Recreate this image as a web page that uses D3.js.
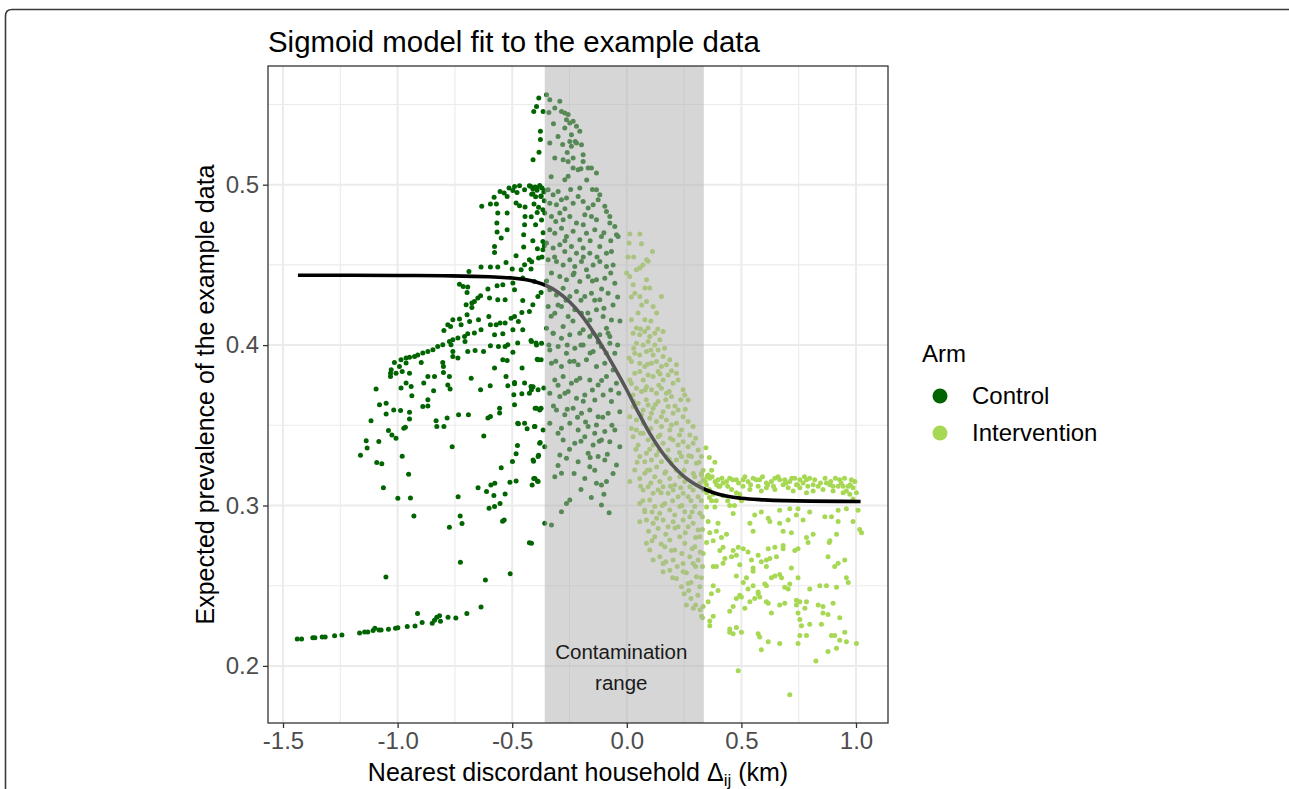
<!DOCTYPE html>
<html><head><meta charset="utf-8">
<script src="https://cdn.jsdelivr.net/npm/d3@7"></script>
<style>
body{margin:0;background:#fff;}
text{font-family:"Liberation Sans",Arial,Helvetica,sans-serif;}
</style></head>
<body><svg id="chart" width="1289" height="789"></svg>
<script>
// ---------------- DATA ----------------
const chartTitle = "Sigmoid model fit to the example data";
const xTicks = [-1.5, -1.0, -0.5, 0.0, 0.5, 1.0];
const xTickLabels = ["-1.5", "-1.0", "-0.5", "0.0", "0.5", "1.0"];
const xMinor = [-1.25, -0.75, -0.25, 0.25, 0.75];
const yTicks = [0.2, 0.3, 0.4, 0.5];
const yTickLabels = ["0.2", "0.3", "0.4", "0.5"];
const yMinor = [0.25, 0.35, 0.45, 0.55];
const arms = ["Control", "Intervention"];
const contamination = [-0.358, 0.336];

// Control arm: lower tail
const controlTail = [[-1.438,0.2168],[-1.419,0.2168],[-1.370,0.2176],[-1.361,0.2176],[-1.329,0.218],[-1.316,0.218],[-1.275,0.2188],[-1.243,0.2193],[-1.166,0.2205],[-1.144,0.2211],[-1.130,0.2211],[-1.107,0.222],[-1.099,0.2234],[-1.081,0.2224],[-1.072,0.2224],[-1.040,0.2228],[-1.009,0.2234],[-0.999,0.2238],[-0.958,0.2245],[-0.924,0.2249],[-0.913,0.2326],[-0.893,0.227],[-0.849,0.2266],[-0.839,0.2284],[-0.829,0.2303],[-0.817,0.2313],[-0.813,0.2278],[-0.780,0.2303],[-0.746,0.2299],[-0.698,0.2326],[-0.636,0.2367],[-0.617,0.2536],[-0.509,0.2575],[-1.051,0.2555]];

// Control arm: scattered points left of the contamination range
const controlLeft = [[-1.162,0.3314],[-1.133,0.3359],[-1.137,0.3403],[-1.082,0.3399],[-1.091,0.3268],[-1.069,0.3261],[-1.062,0.3110],[-0.980,0.3307],[-0.952,0.3195],[-0.999,0.3045],[-0.944,0.3047],[-0.929,0.2935],[-0.762,0.3366],[-0.736,0.3054],[-0.727,0.2935],[-0.719,0.2887],[-0.774,0.2865],[-0.726,0.2646],[-0.649,0.3110],[-0.612,0.3087],[-0.593,0.3128],[-0.576,0.3139],[-0.580,0.3062],[-0.601,0.2983],[-0.577,0.2993],[-0.553,0.3012],[-0.531,0.3072],[-0.548,0.3235],[-0.542,0.2902],[-0.535,0.2910],[-0.510,0.3145],[-0.483,0.3152],[-0.499,0.3274],[-0.483,0.3322],[-0.477,0.3374],[-0.425,0.2767],[-0.413,0.3128],[-0.406,0.3168],[-0.390,0.3152],[-0.407,0.3276],[-0.385,0.3314],[-0.378,0.3392],[-0.358,0.3367],
[-0.633,0.4865],[-0.595,0.4880],[-0.579,0.4921],[-0.569,0.4880],[-0.553,0.4958],[-0.535,0.4948],[-0.522,0.4927],[-0.514,0.4979],[-0.497,0.4964],[-0.490,0.4989],[-0.479,0.4952],[-0.468,0.4994],[-0.446,0.4969],[-0.425,0.4994],[-0.410,0.4944],[-0.391,0.4979],[-0.374,0.4927],[-0.359,0.4964],[-0.468,0.4869],[-0.444,0.4861],[-0.522,0.4823],[-0.563,0.4823],[-0.483,0.4886],[-0.391,0.4827],[-0.366,0.4844],[-0.444,0.4802],[-0.567,0.4761],[-0.522,0.4719],[-0.566,0.4705],[-0.548,0.4667],[-0.446,0.4750],[-0.450,0.4688],[-0.366,0.4646],[-0.450,0.4611],[-0.577,0.4615],[-0.577,0.4578],[-0.483,0.4557],[-0.425,0.4532],[-0.385,0.4543],[-0.366,0.4594],[-0.527,0.4515],[-0.446,0.4501],[-0.636,0.4487],[-0.595,0.4487],[-0.563,0.4487],[-0.461,0.4470],[-0.418,0.4474],[-0.500,0.4474],[-0.689,0.4459],[-0.730,0.4380],[-0.714,0.4366],[-0.694,0.4362],[-0.697,0.4328],[-0.606,0.4349],[-0.566,0.4370],[-0.541,0.4376],[-0.497,0.4387],[-0.490,0.4345],[-0.454,0.4418],[-0.403,0.4397],[-0.388,0.4303],[-0.374,0.4328],[-0.638,0.4308],[-0.650,0.4293],[-0.665,0.4272],[-0.676,0.4262],[-0.701,0.4251],[-0.676,0.4235],[-0.599,0.4293],[-0.563,0.4283],[-0.531,0.4283],[-0.454,0.4278],[-0.410,0.4251],[-0.458,0.4203],[-0.425,0.4210],[-0.697,0.4189],[-0.730,0.4162],[-0.759,0.4158],[-0.781,0.4127],[-0.769,0.4116],[-0.798,0.4091],[-0.723,0.4127],[-0.686,0.4147],[-0.647,0.4158],[-0.602,0.4179],[-0.595,0.4127],[-0.570,0.4127],[-0.553,0.4137],[-0.531,0.4137],[-0.505,0.4168],[-0.490,0.4179],[-0.473,0.4147],[-0.497,0.4095],[-0.454,0.4095],[-0.541,0.4070],[-0.577,0.4064],[-0.636,0.4095],[-0.665,0.4075],[-0.694,0.4070],[-0.708,0.4054],[-0.737,0.4044],[-0.759,0.4033],[-0.774,0.4022],[-0.803,0.4002],[-0.825,0.3991],[-0.846,0.3971],[-0.868,0.3960],[-0.890,0.3950],[-0.912,0.3939],[-0.926,0.3929],[-0.948,0.3925],[-0.963,0.3919],[-0.985,0.3908],[-1.014,0.3891],[-0.992,0.3867],[-0.963,0.3888],[-1.028,0.3846],[-1.007,0.3825],[-1.031,0.3804],[-0.980,0.3835],[-0.948,0.3825],[-0.897,0.3891],[-0.767,0.4002],[-0.759,0.3960],[-0.759,0.3929],[-0.737,0.3919],[-0.706,0.4022],[-0.694,0.3960],[-0.662,0.3966],[-0.625,0.3960],[-0.595,0.3996],[-0.560,0.3991],[-0.531,0.3991],[-0.519,0.4002],[-0.497,0.3955],[-0.476,0.4013],[-0.418,0.4029],[-0.396,0.4013],[-0.374,0.3908],[-0.391,0.3912],[-0.541,0.3908],[-0.522,0.3904],[-0.577,0.3857],[-0.457,0.3857],[-0.803,0.3891],[-0.800,0.3867],[-0.800,0.3829],[-0.774,0.3804],[-0.679,0.3794],[-0.527,0.3804],[-0.490,0.3767],[-0.446,0.3763],[-0.418,0.3742],[-0.362,0.3732],[-1.031,0.3825],[-1.094,0.3727],[-0.985,0.3732],[-0.963,0.3763],[-0.941,0.3742],[-0.938,0.3684],[-0.886,0.3763],[-0.868,0.3804],[-0.843,0.3715],[-0.839,0.3804],[-0.781,0.3752],[-0.771,0.3727],[-0.638,0.3721],[-0.596,0.3746],[-0.519,0.3746],[-0.490,0.3759],[-0.493,0.3690],[-0.458,0.3696],[-0.425,0.3700],[-1.079,0.3628],[-1.050,0.3638],[-1.050,0.3570],[-1.017,0.3596],[-0.987,0.3592],[-0.948,0.3582],[-0.948,0.3540],[-0.890,0.3617],[-0.868,0.3659],[-0.868,0.3621],[-0.832,0.3528],[-0.829,0.3492],[-0.798,0.3492],[-0.784,0.3545],[-0.734,0.3565],[-0.691,0.3565],[-0.606,0.3545],[-0.595,0.3555],[-0.555,0.3607],[-0.555,0.3576],[-0.490,0.3628],[-0.476,0.3513],[-0.446,0.3513],[-0.435,0.3478],[-0.403,0.3492],[-0.400,0.3607],[-0.374,0.3607],[-1.116,0.3528],[-1.040,0.3467],[-1.025,0.3440],[-1.007,0.3420],[-0.973,0.3482],[-0.966,0.3488],[-0.624,0.3434],[-0.473,0.3509],
[-0.416,0.4022],[-0.394,0.4001],[-0.372,0.4012],[-0.387,0.3908],[-0.409,0.3741],[-0.387,0.3721],[-0.416,0.3721],[-0.394,0.3606],[-0.380,0.3596],[-0.401,0.3492],[-0.365,0.3471],[-0.380,0.3388],[-0.409,0.3284],[-0.387,0.3305],[-0.401,0.3169],[-0.387,0.3149],[-0.416,0.2764],
[-0.384,0.5541],[-0.406,0.5457],[-0.394,0.5488],[-0.365,0.5457],[-0.377,0.5333],[-0.377,0.5281],[-0.383,0.5202],[-0.409,0.5156],
[-0.420,0.499],[-0.410,0.4975],[-0.400,0.4985],[-0.392,0.4965],[-0.380,0.4995],[-0.370,0.498],[-0.362,0.4955],[-0.415,0.494],[-0.398,0.4925],[-0.375,0.493],[-0.360,0.490],[-0.405,0.488],[-0.385,0.486],[-0.417,0.480],[-0.398,0.475],[-0.372,0.478],[-0.365,0.470],[-0.410,0.465],[-0.390,0.460],[-0.370,0.455],[-0.415,0.452],[-0.360,0.462]];

// Control arm: points inside the contamination range
const controlInside = [[-0.3505,0.5561],[-0.3360,0.5530],[-0.3142,0.5478],[-0.2923,0.5520],[-0.2851,0.5457],[-0.2705,0.5447],[-0.2560,0.5437],[-0.2633,0.5405],[-0.2487,0.5385],[-0.2342,0.5395],[-0.2196,0.5364],[-0.2051,0.5333],[-0.2705,0.5353],[-0.2415,0.5312],[-0.3360,0.5260],[-0.2196,0.5260],[-0.1978,0.5249],[-0.2487,0.5270],[-0.2415,0.5239],[-0.3142,0.5166],[-0.2778,0.5156],[-0.2560,0.5145],[-0.2342,0.5166],[-0.1906,0.5187],[-0.1906,0.5145],[-0.1687,0.5104],[-0.1542,0.5104],[-0.1324,0.5073],[-0.2342,0.5104],[-0.2124,0.5093],[-0.2705,0.5031],[-0.2560,0.5052],[-0.2051,0.4979],[-0.1324,0.4969],[-0.1179,0.4937],[-0.1251,0.4906],[-0.3432,0.4969],[-0.3214,0.4937],[-0.2996,0.4958],[-0.2851,0.4906],[-0.3360,0.4885],[-0.3069,0.4875],[-0.2633,0.4917],[-0.2342,0.4885],[-0.2124,0.4927],[-0.1906,0.4896],[-0.1687,0.4854],[-0.1469,0.4875],[-0.0961,0.4865],[-0.0888,0.4833],[-0.0742,0.4802],[-0.3578,0.4823],[-0.3287,0.4802],[-0.2923,0.4823],[-0.2778,0.4781],[-0.2487,0.4802],[-0.2196,0.4761],[-0.1833,0.4813],[-0.1542,0.4802],[-0.1324,0.4781],[-0.0742,0.4761],[-0.0524,0.4740],[-0.3360,0.4719],[-0.3142,0.4698],[-0.2851,0.4729],[-0.2633,0.4677],[-0.2342,0.4709],[-0.2051,0.4657],[-0.1760,0.4698],[-0.1397,0.4719],[-0.1106,0.4677],[-0.0452,0.4688],[-0.0379,0.4677],[-0.3505,0.4636],[-0.3214,0.4605],[-0.2923,0.4625],[-0.2705,0.4584],[-0.2415,0.4615],[-0.2196,0.4573],[-0.1906,0.4605],[-0.1615,0.4573],[-0.1179,0.4615],[-0.0888,0.4573],[-0.0670,0.4584],[-0.3432,0.4532],[-0.3069,0.4521],[-0.2778,0.4500],[-0.2487,0.4532],[-0.2269,0.4490],[-0.1978,0.4521],[-0.1760,0.4469],[-0.1469,0.4500],[-0.1179,0.4521],[-0.0888,0.4490],[-0.0597,0.4500],[-0.3287,0.4449],[-0.2923,0.4428],[-0.2633,0.4407],[-0.2342,0.4438],[-0.2051,0.4397],[-0.1687,0.4428],[-0.1324,0.4407],[-0.0961,0.4417],[-0.0524,0.4386],[-0.3360,0.4345],[-0.3069,0.4313],[-0.2778,0.4355],[-0.2487,0.4303],[-0.2196,0.4334],[-0.1833,0.4303],[-0.1542,0.4324],[-0.1179,0.4282],[-0.0815,0.4324],[-0.3432,0.4241],[-0.3142,0.4199],[-0.2851,0.4241],[-0.2560,0.4178],[-0.2269,0.4220],[-0.1978,0.4199],[-0.1615,0.4157],[-0.1324,0.4220],[-0.1033,0.4178],[-0.0670,0.4157],[-0.3505,0.4105],[-0.3214,0.4074],[-0.2778,0.4116],[-0.1906,0.4095],[-0.1469,0.4074],[-0.0888,0.4105],[-0.0742,0.4053],
[-0.3214,0.4074],[-0.2851,0.4043],[-0.2487,0.4064],[-0.2051,0.4074],[-0.1615,0.4053],[-0.1179,0.4064],[-0.0815,0.4074],[-0.3360,0.3970],[-0.2996,0.3991],[-0.2633,0.3949],[-0.2269,0.3981],[-0.1906,0.4001],[-0.1469,0.3960],[-0.1106,0.3991],[-0.0742,0.4012],[-0.0524,0.3949],[-0.3287,0.3887],[-0.2851,0.3866],[-0.2487,0.3897],[-0.2124,0.3877],[-0.1760,0.3908],[-0.1324,0.3866],[-0.0961,0.3887],[-0.0597,0.3845],[-0.3142,0.3783],[-0.2778,0.3804],[-0.2415,0.3762],[-0.2051,0.3793],[-0.1615,0.3783],[-0.1251,0.3752],[-0.0888,0.3804],[-0.0452,0.3762],[-0.3360,0.3700],[-0.2923,0.3679],[-0.2560,0.3710],[-0.2196,0.3669],[-0.1833,0.3689],[-0.1397,0.3658],[-0.1033,0.3689],[-0.0670,0.3648],[-0.0306,0.3585],[-0.3069,0.3596],[-0.2705,0.3565],[-0.2342,0.3606],[-0.1978,0.3575],[-0.1615,0.3596],[-0.1251,0.3554],[-0.0815,0.3575],[-0.3360,0.3513],[-0.2851,0.3481],[-0.2487,0.3513],[-0.2124,0.3471],[-0.1687,0.3492],[-0.1324,0.3502],[-0.0961,0.3461],[-0.0524,0.3471],[-0.2778,0.3409],[-0.2269,0.3388],[-0.1833,0.3429],[-0.1469,0.3377],[-0.1106,0.3409],[-0.0742,0.3398],[-0.0306,0.3367],[-0.2923,0.3315],[-0.2633,0.3294],[-0.2124,0.3273],[-0.1687,0.3325],[-0.1251,0.3305],[-0.0961,0.3284],[-0.0452,0.3253],[-0.3142,0.3180],[-0.2851,0.3201],[-0.1833,0.3169],[-0.1615,0.3242],[-0.1324,0.3138],[-0.1106,0.3128],[-0.0888,0.3149],[-0.2487,0.3034],[-0.2633,0.3013],[-0.2851,0.2961],[-0.1106,0.3003],[-0.0771,0.2955],[-0.3578,0.2889],[-0.3287,0.2878],
[-0.34,0.545],[-0.32,0.538],[-0.30,0.530],[-0.28,0.525],[-0.26,0.520],[-0.225,0.527],[-0.20,0.510],[-0.175,0.503],[-0.15,0.497],[-0.33,0.505],[-0.31,0.477],[-0.27,0.485],[-0.245,0.497],[-0.19,0.475],[-0.16,0.465],[-0.13,0.455],[-0.10,0.470],[-0.07,0.465],[-0.35,0.440],[-0.315,0.455],[-0.27,0.465],[-0.23,0.445],[-0.19,0.455],[-0.15,0.440],[-0.11,0.435],[-0.07,0.445],[-0.04,0.430],[-0.33,0.418],[-0.30,0.425],[-0.265,0.428],[-0.235,0.415],[-0.20,0.428],[-0.17,0.420],[-0.14,0.428],[-0.10,0.423],[-0.06,0.425],[-0.03,0.415],[-0.34,0.400],[-0.31,0.390],[-0.26,0.400],[-0.23,0.390],[-0.20,0.400],[-0.16,0.395],[-0.125,0.402],[-0.09,0.395],[-0.04,0.400],[-0.30,0.375],[-0.27,0.370],[-0.22,0.378],[-0.19,0.365],[-0.15,0.372],[-0.11,0.378],[-0.07,0.372],[-0.035,0.370],[-0.32,0.362],[-0.26,0.360],[-0.215,0.355],[-0.18,0.352],[-0.14,0.345],[-0.105,0.355],[-0.065,0.350],[-0.30,0.345],[-0.25,0.335],[-0.20,0.340],[-0.16,0.330],[-0.12,0.340],[-0.085,0.332],[-0.06,0.320],[-0.30,0.325],[-0.23,0.320],[-0.14,0.322],[-0.20,0.310],[-0.155,0.305],[-0.10,0.307]];

// Intervention arm: points inside the contamination range
const interventionInside = [[0.013,0.4692],[0.057,0.4692],[0.010,0.4636],[0.064,0.4632],[0.112,0.4584],[0.086,0.4532],[0.093,0.4522],[-0.001,0.4449],[0.013,0.4428],[0.042,0.4470],[0.057,0.4480],[0.086,0.4407],[0.079,0.4356],[0.028,0.4376],[0.035,0.4324],[0.057,0.4303],[0.100,0.4356],[0.151,0.4303],[0.086,0.4272],[0.115,0.4241],[0.020,0.4158],[0.049,0.4200],[0.079,0.4158],[0.130,0.4200],[0.158,0.4085],[0.042,0.4106],[0.093,0.4106],
[0.0275,0.4074],[0.0566,0.4064],[0.0784,0.4085],[0.1002,0.4053],[0.1221,0.4074],[0.0421,0.4012],[0.0712,0.4001],[0.0930,0.4022],[0.1221,0.4001],[0.1439,0.4033],[0.0348,0.3949],[0.0566,0.3939],[0.0857,0.3960],[0.1148,0.3939],[0.1366,0.3970],[0.1584,0.3929],[0.1875,0.3908],[0.2166,0.3877],[0.0203,0.3897],[0.0566,0.3887],[0.0784,0.3866],[0.1075,0.3887],[0.1293,0.3897],[0.1511,0.3866],[0.1729,0.3877],
[0.0130,0.3783],[0.0348,0.3825],[0.0566,0.3835],[0.0712,0.3783],[0.0930,0.3814],[0.1148,0.3804],[0.1366,0.3835],[0.1584,0.3783],[0.1802,0.3814],[0.2020,0.3762],[0.2238,0.3783],[0.2456,0.3721],[0.2675,0.3658],[0.0421,0.3731],[0.0639,0.3710],[0.0857,0.3741],[0.1075,0.3721],[0.1293,0.3700],[0.1511,0.3731],[0.1729,0.3700],[0.1948,0.3679],[0.0275,0.3689],[0.2166,0.3825],[0.2529,0.3689],
[0.0130,0.3554],[0.0275,0.3617],[0.0494,0.3637],[0.0712,0.3596],[0.0930,0.3627],[0.1148,0.3606],[0.1366,0.3648],[0.1584,0.3585],[0.1802,0.3617],[0.2020,0.3575],[0.2238,0.3596],[0.2456,0.3554],[0.2675,0.3523],[0.2893,0.3492],[0.0421,0.3533],[0.0712,0.3513],[0.1002,0.3544],[0.1293,0.3523],[0.1511,0.3492],[0.1729,0.3533],[0.1948,0.3502],[0.2166,0.3513],[0.2384,0.3471],[0.0639,0.3565],[0.1075,0.3575],[0.1511,0.3554],[0.1875,0.3471],
[0.0275,0.3429],[0.0494,0.3377],[0.0712,0.3450],[0.0930,0.3409],[0.1148,0.3377],[0.1366,0.3429],[0.1584,0.3388],[0.1802,0.3346],[0.2020,0.3409],[0.2238,0.3377],[0.2456,0.3398],[0.2675,0.3367],[0.2893,0.3388],[0.3111,0.3346],[0.3256,0.3305],[0.0566,0.3305],[0.0857,0.3325],[0.1075,0.3284],[0.1293,0.3315],[0.1511,0.3273],[0.1729,0.3305],[0.1948,0.3263],[0.2166,0.3284],[0.2384,0.3305],[0.2602,0.3273],[0.2820,0.3305],[0.3038,0.3263],[0.0421,0.3471],[0.0784,0.3273],
[0.0348,0.3221],[0.0566,0.3169],[0.0784,0.3201],[0.1002,0.3221],[0.1221,0.3180],[0.1439,0.3149],[0.1657,0.3201],[0.1875,0.3169],[0.2093,0.3128],[0.2311,0.3180],[0.2529,0.3149],[0.2747,0.3117],[0.2965,0.3180],[0.3183,0.3138],[0.0712,0.3097],[0.0930,0.3117],[0.1148,0.3076],[0.1366,0.3097],[0.1584,0.3117],[0.1802,0.3076],[0.2020,0.3097],[0.2238,0.3055],[0.2456,0.3076],[0.2675,0.3055],[0.2893,0.3097],[0.3329,0.3097],[0.3111,0.3055],[0.0130,0.3149],
[0.0566,0.3013],[0.0784,0.2972],[0.1002,0.3034],[0.1221,0.2993],[0.1439,0.2951],[0.1657,0.3013],[0.1875,0.2972],[0.2093,0.2941],[0.2311,0.2993],[0.2529,0.2961],[0.2747,0.2930],[0.2965,0.2993],[0.3183,0.2951],[0.0857,0.2909],[0.1148,0.2889],[0.1366,0.2857],[0.1584,0.2909],[0.1802,0.2868],[0.2020,0.2899],[0.2238,0.2868],[0.2456,0.2909],[0.2675,0.2868],[0.2893,0.2889],[0.3111,0.2847],[0.0566,0.2899],[0.0784,0.2961],
[0.0857,0.2764],[0.1002,0.2722],[0.1221,0.2805],[0.1439,0.2681],[0.1657,0.2743],[0.1875,0.2785],[0.2093,0.2722],[0.2311,0.2805],[0.2529,0.2764],[0.2747,0.2681],[0.2965,0.2743],[0.3183,0.2805],[0.1584,0.2639],[0.2020,0.2660],[0.2456,0.2639],[0.2893,0.2639],[0.3111,0.2660],[0.1148,0.2660],
[0.1875,0.2597],[0.2166,0.2545],[0.2456,0.2587],[0.2675,0.2514],[0.3038,0.2556],[0.2384,0.2493],[0.3183,0.2493],[0.1584,0.2587],
[0.250,0.245],[0.280,0.242],[0.300,0.238],[0.320,0.235],[0.330,0.230],[0.290,0.236],[0.310,0.244],[0.270,0.247],
[0.005,0.455],[0.03,0.455],[0.07,0.450],[0.02,0.430],[0.065,0.425],[0.105,0.415],[0.06,0.410],[0.135,0.410],[0.03,0.398],[0.105,0.397],[0.165,0.398],[0.01,0.392],[0.09,0.388],[0.145,0.382],[0.195,0.384],[0.02,0.376],[0.08,0.372],[0.14,0.375],[0.185,0.371],[0.235,0.366],[0.03,0.365],[0.085,0.366],[0.125,0.363],[0.17,0.366],[0.21,0.362],[0.255,0.360],[0.02,0.348],[0.06,0.345],[0.105,0.348],[0.145,0.344],[0.19,0.342],[0.23,0.344],[0.275,0.344],[0.30,0.342],[0.04,0.335],[0.10,0.335],[0.14,0.334],[0.185,0.329],[0.23,0.333],[0.27,0.331],[0.315,0.327],[0.045,0.327],[0.09,0.322],[0.13,0.324],[0.17,0.321],[0.215,0.322],[0.25,0.322],[0.29,0.320],[0.325,0.320],[0.06,0.312],[0.105,0.314],[0.15,0.308],[0.19,0.312],[0.235,0.311],[0.28,0.303],[0.325,0.303],[0.07,0.303],[0.11,0.296],[0.155,0.300],[0.20,0.303],[0.24,0.300],[0.285,0.296],[0.33,0.293],[0.095,0.284],[0.13,0.292],[0.17,0.282],[0.21,0.286],[0.255,0.283],[0.30,0.280],[0.33,0.285],[0.11,0.278],[0.15,0.276],[0.195,0.272],[0.24,0.270],[0.285,0.273],[0.32,0.271],[0.17,0.265],[0.22,0.262],[0.26,0.258],[0.30,0.262],[0.20,0.255],[0.28,0.252],[0.325,0.255],[0.26,0.238]];

// Intervention arm: points right of the contamination range
const interventionRight = [[0.345,0.336],[0.360,0.330],[0.370,0.322],[0.350,0.318],[0.385,0.315],[0.400,0.312],[0.360,0.310],
[0.362,0.317],[0.398,0.316],[0.420,0.314],[0.449,0.317],[0.478,0.316],[0.507,0.316],[0.529,0.315],[0.551,0.317],[0.580,0.316],[0.609,0.314],[0.646,0.317],[0.667,0.316],[0.689,0.316],[0.711,0.315],[0.733,0.317],[0.755,0.316],[0.769,0.314],[0.784,0.316],[0.813,0.313],[0.835,0.312],[0.871,0.314],[0.900,0.312],[0.922,0.312],[0.944,0.312],[0.966,0.312],[0.987,0.311],[1.002,0.308],[0.507,0.312],[0.537,0.310],[0.573,0.312],[0.609,0.311],[0.646,0.310],[0.682,0.313],[0.704,0.311],[0.726,0.309],[0.755,0.311],[0.784,0.308],[0.813,0.309],[0.856,0.310],[0.900,0.309],[0.944,0.308],[0.973,0.307],[0.987,0.304],[0.457,0.310],[0.478,0.308],[0.493,0.307],[0.377,0.307],[0.348,0.313],[0.333,0.316],[0.326,0.319],[0.355,0.319],[0.406,0.312],[0.435,0.315],[0.587,0.309],[0.631,0.315],[0.740,0.313],[0.798,0.317],[0.886,0.313],[0.929,0.316],[0.980,0.316],[0.958,0.309],
[0.342,0.315],[0.372,0.318],[0.392,0.313],[0.415,0.317],[0.44,0.312],[0.462,0.316],[0.488,0.314],[0.515,0.318],[0.54,0.313],[0.565,0.316],[0.592,0.318],[0.615,0.313],[0.64,0.312],[0.66,0.318],[0.695,0.314],[0.72,0.317],[0.745,0.313],[0.775,0.318],[0.79,0.312],[0.82,0.316],[0.845,0.314],[0.865,0.317],[0.89,0.315],[0.91,0.317],[0.935,0.314],[0.95,0.317],[0.975,0.313],[0.995,0.315],[0.36,0.305],[0.39,0.303],[0.42,0.306],[0.44,0.303],[0.47,0.300],[0.50,0.303],
[0.333,0.322],[0.348,0.308],[0.370,0.303],[0.384,0.327],[0.333,0.270],[0.330,0.262],[0.333,0.237],[0.326,0.231],
[0.348,0.299],[0.384,0.299],[0.449,0.300],[0.464,0.295],[0.558,0.294],[0.587,0.296],[0.667,0.297],[0.711,0.298],[0.747,0.298],[0.740,0.294],[0.769,0.291],[0.798,0.296],[0.864,0.293],[0.893,0.293],[0.922,0.297],[0.958,0.298],[1.009,0.297],[0.987,0.290],[1.016,0.285],[1.024,0.283],[0.355,0.290],[0.398,0.289],[0.391,0.284],[0.362,0.283],[0.537,0.289],[0.551,0.284],[0.617,0.292],[0.624,0.290],[0.667,0.289],[0.704,0.291],[0.682,0.284],[0.718,0.283],[0.747,0.273],[0.784,0.280],[0.791,0.277],[0.813,0.282],[0.886,0.278],[0.883,0.277],[0.915,0.282],[0.922,0.290],[0.348,0.277],[0.377,0.278],[0.413,0.280],[0.435,0.282],[0.420,0.274],[0.406,0.272],[0.464,0.272],[0.486,0.274],[0.508,0.273],[0.529,0.271],[0.478,0.269],[0.457,0.268],[0.428,0.267],[0.420,0.264],[0.391,0.262],[0.377,0.262],[0.493,0.263],[0.544,0.266],[0.573,0.269],[0.587,0.265],[0.609,0.266],[0.624,0.267],[0.653,0.268],[0.617,0.273],[0.646,0.274],[0.682,0.275],[0.682,0.273],[0.733,0.272],[0.551,0.261],[0.609,0.262],[0.718,0.261],[0.646,0.256],[0.667,0.257],[0.675,0.255],[0.551,0.259],[0.478,0.256],[0.522,0.255],[0.508,0.252],[0.551,0.250],[0.529,0.248],[0.573,0.246],[0.602,0.251],[0.631,0.255],[0.609,0.250],[0.689,0.249],[0.704,0.248],[0.711,0.251],[0.747,0.255],[0.798,0.248],[0.842,0.250],[0.871,0.250],[0.915,0.249],[0.958,0.255],[0.966,0.252],[0.878,0.268],[0.907,0.262],[0.922,0.264],[0.951,0.266],[0.377,0.250],[0.398,0.247],[0.369,0.245],[0.355,0.240],[0.377,0.231],[0.362,0.228],[0.362,0.225],[0.449,0.234],[0.464,0.237],[0.478,0.242],[0.493,0.244],[0.500,0.243],[0.515,0.236],[0.537,0.240],[0.558,0.242],[0.573,0.245],[0.580,0.243],[0.609,0.240],[0.617,0.239],[0.631,0.233],[0.667,0.238],[0.689,0.239],[0.740,0.238],[0.740,0.241],[0.755,0.240],[0.784,0.240],[0.777,0.236],[0.835,0.238],[0.856,0.237],[0.747,0.233],[0.755,0.229],[0.762,0.225],[0.798,0.226],[0.849,0.226],[0.878,0.232],[0.856,0.233],[0.900,0.239],[0.929,0.230],[0.951,0.221],[0.893,0.219],[0.907,0.219],[0.929,0.216],[0.958,0.215],[1.002,0.214],[0.915,0.211],[0.878,0.209],[0.755,0.219],[0.747,0.214],[0.784,0.219],[0.667,0.214],[0.617,0.215],[0.587,0.210],[0.573,0.220],[0.580,0.218],[0.478,0.224],[0.449,0.223],[0.449,0.221],[0.464,0.220],[0.500,0.221],[0.825,0.203],[0.486,0.197],[0.711,0.182]];

// Fitted sigmoid curve
const curveX = [-1.435,-1.2,-1.0,-0.8,-0.6,-0.5,-0.4,-0.35,-0.3,-0.25,-0.2,-0.15,-0.1,-0.05,0.0,0.05,0.1,0.15,0.2,0.25,0.3,0.35,0.4,0.5,0.6,0.8,1.02];
const curveY = [0.4435,0.4435,0.4434,0.4432,0.4426,0.4418,0.4395,0.4370,0.4330,0.4270,0.4190,0.4090,0.3975,0.3850,0.3720,0.3580,0.3450,0.3340,0.3250,0.3180,0.3130,0.3095,0.3070,0.3045,0.3035,0.3027,0.3025];

// ---------------- DRAW ----------------
const svg = d3.select("#chart");
const P = {left:268, right:888, top:66, bottom:723};
const x = d3.scaleLinear().domain([-1.5655, 1.1396]).range([P.left, P.right]);
const y = d3.scaleLinear().domain([0.1644, 0.574]).range([P.bottom, P.top]);
const color = d3.scaleOrdinal().domain(arms).range(["#006400", "#a6d854"]);

svg.append("rect").attr("width",1289).attr("height",789).attr("fill","#fff");
// outer frame
svg.append("path").attr("d","M5.5,789 L5.5,16 Q5.5,9.5 12,9.5 L1289,9.5")
  .attr("fill","none").attr("stroke","#3a3a3a").attr("stroke-width",1.6);

const g = svg.append("g");
// grid
g.selectAll(".gxm").data(xMinor).join("line").attr("x1",d=>x(d)).attr("x2",d=>x(d)).attr("y1",P.top).attr("y2",P.bottom).attr("stroke","#ebebeb").attr("stroke-width",1.1);
g.selectAll(".gym").data(yMinor).join("line").attr("y1",d=>y(d)).attr("y2",d=>y(d)).attr("x1",P.left).attr("x2",P.right).attr("stroke","#ebebeb").attr("stroke-width",1.1);
g.selectAll(".gx").data(xTicks).join("line").attr("x1",d=>x(d)).attr("x2",d=>x(d)).attr("y1",P.top).attr("y2",P.bottom).attr("stroke","#ebebeb").attr("stroke-width",2);
g.selectAll(".gy").data(yTicks).join("line").attr("y1",d=>y(d)).attr("y2",d=>y(d)).attr("x1",P.left).attr("x2",P.right).attr("stroke","#ebebeb").attr("stroke-width",2);

// points
const pts = [];
controlTail.concat(controlLeft, controlInside).forEach(p=>pts.push({x:p[0],y:p[1],arm:"Control"}));
interventionInside.concat(interventionRight).forEach(p=>pts.push({x:p[0],y:p[1],arm:"Intervention"}));
g.selectAll("circle.pt").data(pts).join("circle").attr("class","pt")
  .attr("cx",d=>x(d.x)).attr("cy",d=>y(d.y)).attr("r",2.5).attr("fill",d=>color(d.arm));

// curve
const curveData = curveX.map((v,i)=>[v,curveY[i]]);
g.append("path").datum(curveData)
  .attr("d", d3.line().x(d=>x(d[0])).y(d=>y(d[1])).curve(d3.curveMonotoneX))
  .attr("fill","none").attr("stroke","#000").attr("stroke-width",3.6);

// contamination range band
g.append("rect").attr("x",x(contamination[0])).attr("width",x(contamination[1])-x(contamination[0]))
  .attr("y",P.top).attr("height",P.bottom-P.top).attr("fill","#aeaeae").attr("fill-opacity",0.5);
const cx = (x(contamination[0])+x(contamination[1]))/2 - 3;
g.append("text").attr("x",cx).attr("y",659).attr("text-anchor","middle").attr("font-size",20.5).attr("fill","#1a1a1a").text("Contamination");
g.append("text").attr("x",cx).attr("y",690).attr("text-anchor","middle").attr("font-size",20.5).attr("fill","#1a1a1a").text("range");

// panel border
g.append("rect").attr("x",P.left).attr("y",P.top).attr("width",P.right-P.left).attr("height",P.bottom-P.top)
  .attr("fill","none").attr("stroke","#333").attr("stroke-width",1.3);

// axes
const xAxis = d3.axisBottom(x).tickValues(xTicks).tickFormat((d,i)=>xTickLabels[i]).tickSize(5).tickPadding(4);
const xg = svg.append("g").attr("transform",`translate(0,${P.bottom})`).call(xAxis);
const yAxis = d3.axisLeft(y).tickValues(yTicks).tickFormat((d,i)=>yTickLabels[i]).tickSize(5).tickPadding(4);
const yg = svg.append("g").attr("transform",`translate(${P.left},0)`).call(yAxis);
[xg,yg].forEach(a=>{
  a.select(".domain").remove();
  a.selectAll(".tick line").attr("stroke","#333").attr("stroke-width",1.3);
  a.selectAll(".tick text").attr("fill","#4d4d4d").attr("font-size",24).attr("font-family","Liberation Sans, Arial, sans-serif");
});
xg.selectAll(".tick text").attr("dy","0.72em");

// titles
svg.append("text").attr("x",P.left).attr("y",52).attr("font-size",29.4).attr("fill","#000").text(chartTitle);
const xt = svg.append("text").attr("x",(P.left+P.right)/2).attr("y",781).attr("text-anchor","middle").attr("font-size",25).attr("fill","#000");
xt.append("tspan").text("Nearest discordant household \u0394");
xt.append("tspan").attr("font-size",17).attr("dy",5).text("ij");
xt.append("tspan").attr("dy",-5).text(" (km)");
svg.append("text").attr("transform",`translate(214,${(P.top+P.bottom)/2}) rotate(-90)`).attr("text-anchor","middle")
  .attr("font-size",25).attr("fill","#000").text("Expected prevalence of the example data");

// legend
const lg = svg.append("g");
lg.append("text").attr("x",922).attr("y",362).attr("font-size",24).attr("fill","#000").text("Arm");
arms.forEach((a,i)=>{
  lg.append("circle").attr("cx",940).attr("cy",396+37*i).attr("r",7.5).attr("fill",color(a));
  lg.append("text").attr("x",972).attr("y",404+37*i).attr("font-size",24).attr("fill","#000").text(a);
});
</script></body></html>
